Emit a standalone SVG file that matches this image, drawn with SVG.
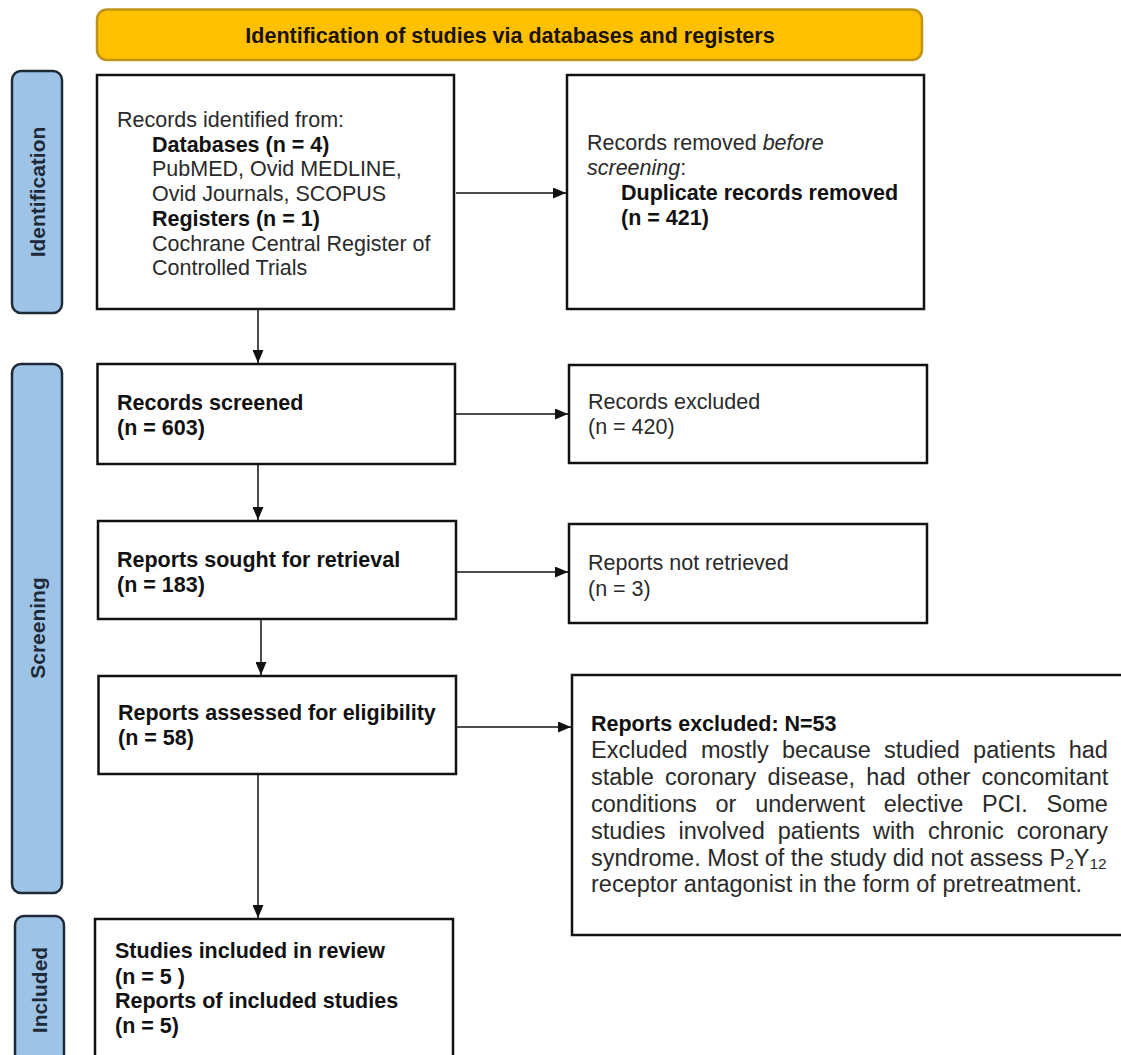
<svg xmlns="http://www.w3.org/2000/svg" width="1121" height="1055" viewBox="0 0 1121 1055">
<style>
.box{fill:#fff;stroke:#111;stroke-width:2.5}
.side{fill:#9DC3E6;stroke:#1F2A38;stroke-width:2.5}
.banner{fill:#FFC000;stroke:#C09418;stroke-width:2.5}
.t{font-family:"Liberation Sans",Arial,sans-serif;font-size:21.5px;fill:#2a2a2a}
.b{font-weight:bold;fill:#111}
.side-t{font-family:"Liberation Sans",Arial,sans-serif;font-size:21px;font-weight:bold;fill:#1F2A38;text-anchor:middle}
.body{font-family:"Liberation Sans",Arial,sans-serif;font-size:23.5px;fill:#2a2a2a}
.con{stroke:#111;stroke-width:1.5;fill:none}
</style>
<defs>
<marker id="ah" markerUnits="userSpaceOnUse" markerWidth="13" markerHeight="11" refX="13" refY="5.5" orient="auto">
<path d="M0,0 L13,5.5 L0,11 z" fill="#111"/>
</marker>
</defs>

<g id="banner">
<rect class="banner" x="97" y="9.5" width="825" height="50.5" rx="10"/>
<text class="t b" x="510" y="43" text-anchor="middle" style="fill:#1a1205">Identification of studies via databases and registers</text>
</g>

<g id="label-identification">
<rect class="side" x="12" y="71" width="50" height="242" rx="9"/>
<text class="side-t" transform="translate(44.5,192) rotate(-90)">Identification</text>
</g>
<g id="label-screening">
<rect class="side" x="12" y="364" width="50" height="529" rx="9"/>
<text class="side-t" transform="translate(44.5,628) rotate(-90)">Screening</text>
</g>
<g id="label-included">
<rect class="side" x="15" y="916" width="49" height="160" rx="9"/>
<text class="side-t" transform="translate(47,990) rotate(-90)">Included</text>
</g>

<g id="records-identified">
<rect class="box" x="97" y="75" width="357" height="234"/>
<text class="t" x="117" y="127">Records identified from:</text>
<text class="t b" x="152" y="151.7">Databases (n = 4)</text>
<text class="t" x="152" y="176.4">PubMED, Ovid MEDLINE,</text>
<text class="t" x="152" y="201">Ovid Journals, SCOPUS</text>
<text class="t b" x="152" y="225.8">Registers (n = 1)</text>
<text class="t" x="152" y="250.5">Cochrane Central Register of</text>
<text class="t" x="152" y="275.2">Controlled Trials</text>
</g>

<g id="records-removed">
<rect class="box" x="567" y="75" width="357" height="234"/>
<text class="t" x="587" y="150">Records removed <tspan font-style="italic">before</tspan></text>
<text class="t" x="587" y="175"><tspan font-style="italic">screening</tspan>:</text>
<text class="t b" x="621" y="200">Duplicate records removed</text>
<text class="t b" x="621" y="225">(n = 421)</text>
</g>

<g id="records-screened">
<rect class="box" x="97.5" y="364" width="357.5" height="100"/>
<text class="t b" x="117" y="410">Records screened</text>
<text class="t b" x="117" y="435">(n = 603)</text>
</g>

<g id="records-excluded">
<rect class="box" x="569" y="365" width="358" height="98"/>
<text class="t" x="588" y="409">Records excluded</text>
<text class="t" x="588" y="434">(n = 420)</text>
</g>

<g id="reports-sought">
<rect class="box" x="98" y="521" width="358" height="98"/>
<text class="t b" x="117" y="567">Reports sought for retrieval</text>
<text class="t b" x="117" y="592">(n = 183)</text>
</g>

<g id="reports-not-retrieved">
<rect class="box" x="569" y="524" width="358" height="99"/>
<text class="t" x="588" y="570">Reports not retrieved</text>
<text class="t" x="588" y="596">(n = 3)</text>
</g>

<g id="reports-assessed">
<rect class="box" x="98.5" y="676" width="357.5" height="98"/>
<text class="t b" x="118" y="720">Reports assessed for eligibility</text>
<text class="t b" x="118" y="745">(n = 58)</text>
</g>

<g id="reports-excluded">
<rect class="box" x="572" y="675" width="560" height="260"/>
<text class="t b" x="591" y="731">Reports excluded: N=53</text>
<text class="body" x="591" y="758" word-spacing="6.7">Excluded mostly because studied patients had</text>
<text class="body" x="591" y="785" word-spacing="4.7">stable coronary disease, had other concomitant</text>
<text class="body" x="591" y="812" word-spacing="12.2">conditions or underwent elective PCI. Some</text>
<text class="body" x="591" y="839" word-spacing="6.5">studies involved patients with chronic coronary</text>
<text class="body" x="591" y="866">syndrome. Most of the study did not assess P<tspan font-size="15.5" dy="3">2</tspan><tspan dy="-3">Y</tspan><tspan font-size="15.5" dy="3">12</tspan></text>
<text class="body" x="591" y="892">receptor antagonist in the form of pretreatment.</text>
</g>

<g id="studies-included">
<rect class="box" x="95" y="919" width="358" height="160"/>
<text class="t b" x="115" y="958">Studies included in review</text>
<text class="t b" x="115" y="984">(n = 5 )</text>
<text class="t b" x="115" y="1008">Reports of included studies</text>
<text class="t b" x="115" y="1033">(n = 5)</text>
</g>

<g id="connectors">
<line class="con" x1="456" y1="193" x2="566" y2="193" marker-end="url(#ah)"/>
<line class="con" x1="456" y1="414" x2="568" y2="414" marker-end="url(#ah)"/>
<line class="con" x1="457" y1="572" x2="568" y2="572" marker-end="url(#ah)"/>
<line class="con" x1="457" y1="727" x2="571" y2="727" marker-end="url(#ah)"/>
<line class="con" x1="258" y1="310" x2="258" y2="363" marker-end="url(#ah)"/>
<line class="con" x1="258" y1="465" x2="258" y2="520" marker-end="url(#ah)"/>
<line class="con" x1="261" y1="620" x2="261" y2="675" marker-end="url(#ah)"/>
<line class="con" x1="258" y1="775" x2="258" y2="918" marker-end="url(#ah)"/>
</g>
</svg>
